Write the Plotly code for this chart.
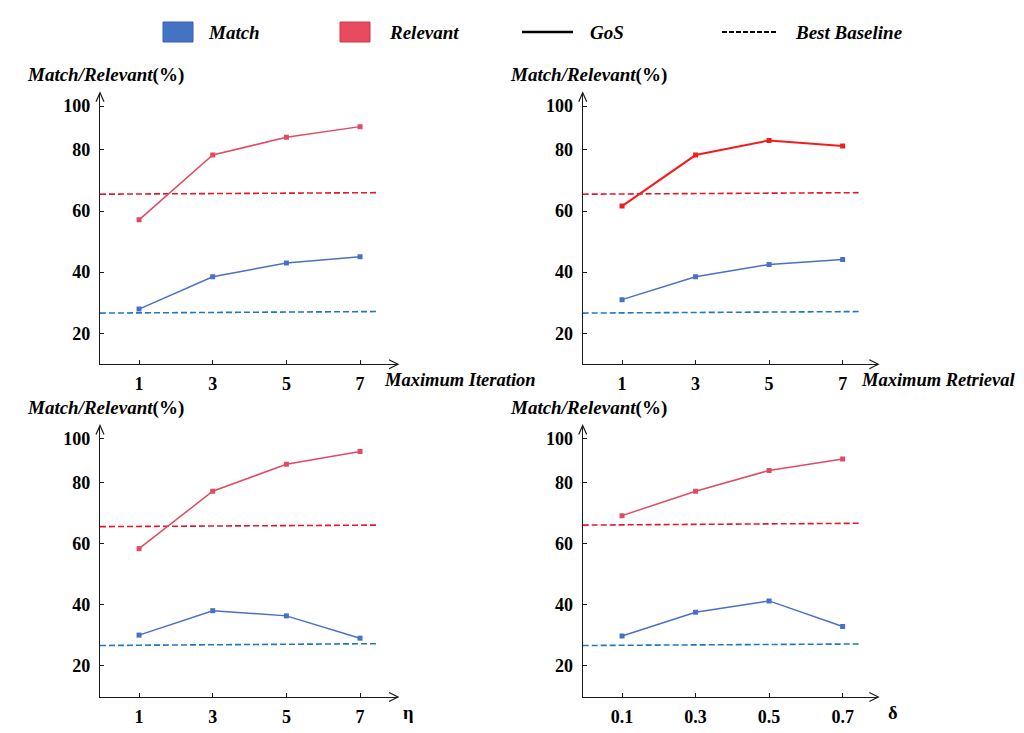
import plotly.graph_objects as go

# x categories per panel
iter_x = [1, 3, 5, 7]
retr_x = [1, 3, 5, 7]
eta_x = [1, 3, 5, 7]
delta_x = [0.1, 0.3, 0.5, 0.7]

# GoS results (%)
match_iter = [27.9, 38.5, 43.0, 45.0]
rel_iter = [57.1, 78.3, 84.1, 87.6]
match_retr = [31.0, 38.5, 42.5, 44.1]
rel_retr = [61.6, 78.3, 83.1, 81.3]
match_eta = [30.1, 38.1, 36.4, 29.1]
rel_eta = [58.4, 77.2, 86.0, 90.2]
match_delta = [29.8, 37.6, 41.3, 32.9]
rel_delta = [69.2, 77.2, 84.0, 87.7]

# best baseline (start, end of the slightly tilted dashed line)
base_match_iter = [26.6, 27.1]
base_rel_iter = [65.5, 66.0]
base_match_retr = [26.6, 27.1]
base_rel_retr = [65.5, 66.0]
base_match_eta = [26.7, 27.3]
base_rel_eta = [65.6, 66.1]
base_match_delta = [26.7, 27.2]
base_rel_delta = [66.1, 66.7]

y_tick_vals = [20, 40, 60, 80, 94.3]
y_tick_text = ["20", "40", "60", "80", "100"]
delta_tick_text = ["0.1", "0.3", "0.5", "0.7"]

MATCH = "#4A6FC7"
REL = "#DE4B63"
REL_BRIGHT = "#F21D1D"
BASE_RED = "#E5172B"
BASE_BLUE = "#2277C4"
SERIF = "Liberation Serif, Times New Roman, serif"

# the page body has an 8px margin, so the figure is shifted by that much
PAD = 8
W, H = 1024 - PAD, 733 - PAD


def px(x):
    return (x - PAD) / W


def py(y):
    return 1 - (y - PAD) / H


# panel geometry in window pixels
panels = [
    dict(x=iter_x, m=match_iter, r=rel_iter, bm=base_match_iter, br=base_rel_iter,
         xd=(100, 398), yd=(92.7, 364.3), xr=(-0.06, 8.03), bend=7.45,
         rcolor=REL, rwidth=1.5, xlabel="<i>Maximum Iteration</i>", xlab_x=382),
    dict(x=retr_x, m=match_retr, r=rel_retr, bm=base_match_retr, br=base_rel_retr,
         xd=(582.7, 878.3), yd=(92.7, 364.3), xr=(-0.07, 7.97), bend=7.45,
         rcolor=REL_BRIGHT, rwidth=2, xlabel="<i>Maximum Retrieval</i>", xlab_x=859),
    dict(x=eta_x, m=match_eta, r=rel_eta, bm=base_match_eta, br=base_rel_eta,
         xd=(100, 398), yd=(425.5, 697), xr=(-0.06, 8.03), bend=7.45,
         rcolor=REL, rwidth=1.5, xlabel="η", xlab_x=401),
    dict(x=delta_x, m=match_delta, r=rel_delta, bm=base_match_delta, br=base_rel_delta,
         xd=(582.7, 878.3), yd=(425.5, 697), xr=(-0.007, 0.797), bend=0.745,
         rcolor=REL, rwidth=1.5, xlabel="δ", xlab_x=886),
]

Y_RANGE = (9.85, 98.7)

fig = go.Figure()
shapes = []
annotations = []

for i, p in enumerate(panels, start=1):
    xa = "x" if i == 1 else f"x{i}"
    ya = "y" if i == 1 else f"y{i}"
    # dashed baselines
    bx = [p["xr"][0], p["bend"]]
    fig.add_trace(go.Scatter(x=bx, y=p["br"], mode="lines", xaxis=xa, yaxis=ya,
                             line=dict(color=BASE_RED, width=1.6, dash="6px,3px"),
                             showlegend=False, hoverinfo="skip"))
    fig.add_trace(go.Scatter(x=bx, y=p["bm"], mode="lines", xaxis=xa, yaxis=ya,
                             line=dict(color=BASE_BLUE, width=1.6, dash="6px,3px"),
                             showlegend=False, hoverinfo="skip"))
    # GoS lines
    fig.add_trace(go.Scatter(x=p["x"], y=p["r"], mode="lines+markers", xaxis=xa, yaxis=ya,
                             line=dict(color=p["rcolor"], width=p["rwidth"]),
                             marker=dict(symbol="square", size=5, color=p["rcolor"]),
                             showlegend=False))
    fig.add_trace(go.Scatter(x=p["x"], y=p["m"], mode="lines+markers", xaxis=xa, yaxis=ya,
                             line=dict(color=MATCH, width=1.5),
                             marker=dict(symbol="square", size=5, color=MATCH),
                             showlegend=False))

    axis_common = dict(
        showgrid=False, zeroline=False, showline=True, linecolor="#1a1a1a", linewidth=1.2,
        ticks="inside", ticklen=4, tickcolor="#1a1a1a",
        tickfont=dict(family=SERIF, size=18, color="black", weight="bold"),
    )
    xkey = "xaxis" if i == 1 else f"xaxis{i}"
    ykey = "yaxis" if i == 1 else f"yaxis{i}"
    xd = [px(p["xd"][0]), px(p["xd"][1])]
    yd = [py(p["yd"][1]), py(p["yd"][0])]
    xaxis = dict(domain=xd, range=list(p["xr"]), anchor=ya, tickvals=p["x"],
                 ticklabelstandoff=3, **axis_common)
    if p["x"] is delta_x:
        xaxis["ticktext"] = delta_tick_text
    fig.update_layout({
        xkey: xaxis,
        ykey: dict(domain=yd, range=list(Y_RANGE), anchor=xa, tickvals=y_tick_vals,
                   ticktext=y_tick_text, ticklabelstandoff=5, **axis_common),
    })

    # arrow heads on both axes (paper refs so they are not clipped)
    shapes.append(dict(type="path", xref="paper", yref="paper", xsizemode="pixel",
                       ysizemode="pixel", xanchor=xd[1], yanchor=yd[0],
                       path="M -9,4.5 L 0,0 L -9,-4.5", line=dict(color="#1a1a1a", width=1.2)))
    shapes.append(dict(type="path", xref="paper", yref="paper", xsizemode="pixel",
                       ysizemode="pixel", xanchor=xd[0], yanchor=yd[1],
                       path="M -4,-9 L 0,0 L 4,-9", line=dict(color="#1a1a1a", width=1.2)))

    # axis titles
    annotations.append(dict(text="<b><i>Match/Relevant</i>(%)</b>", xref="paper", yref="paper",
                            x=px(p["xd"][0] - 75), y=py(p["yd"][0] - 18),
                            xanchor="left", yanchor="middle", showarrow=False,
                            font=dict(family=SERIF, size=19, color="black")))
    annotations.append(dict(text=f"<b>{p['xlabel']}</b>", xref="paper", yref="paper",
                            x=px(p["xlab_x"]), y=py(p["yd"][1] + 16),
                            xanchor="left", yanchor="middle", showarrow=False,
                            font=dict(family=SERIF, size=18.5, color="black")))

# legend drawn by hand along the top
legend_y = py(32)
shapes += [
    dict(type="rect", xref="paper", yref="paper", x0=px(163), x1=px(193),
         y0=py(42), y1=py(22), fillcolor="#4472C4", line=dict(color="#3A62AE", width=1)),
    dict(type="rect", xref="paper", yref="paper", x0=px(340), x1=px(370),
         y0=py(42), y1=py(22), fillcolor="#E84A5F", line=dict(color="#C73A4E", width=1)),
    dict(type="line", xref="paper", yref="paper", x0=px(522), x1=px(573),
         y0=legend_y, y1=legend_y, line=dict(color="black", width=2.5)),
    dict(type="line", xref="paper", yref="paper", x0=px(722), x1=px(778),
         y0=legend_y, y1=legend_y, line=dict(color="black", width=1.8, dash="5px,2px")),
]
for text, lx in [("Match", 206), ("Relevant", 387), ("GoS", 588), ("Best Baseline", 793)]:
    annotations.append(dict(text=f"<b><i>{text}</i></b>", xref="paper", yref="paper",
                            x=px(lx), y=legend_y, xanchor="left", yanchor="middle",
                            showarrow=False, font=dict(family=SERIF, size=19, color="black")))

fig.update_layout(
    width=W, height=H,
    margin=dict(l=0, r=0, t=0, b=0),
    paper_bgcolor="white", plot_bgcolor="white",
    font=dict(family=SERIF),
    shapes=shapes, annotations=annotations,
    showlegend=False,
)

fig.write_html("out.html")
